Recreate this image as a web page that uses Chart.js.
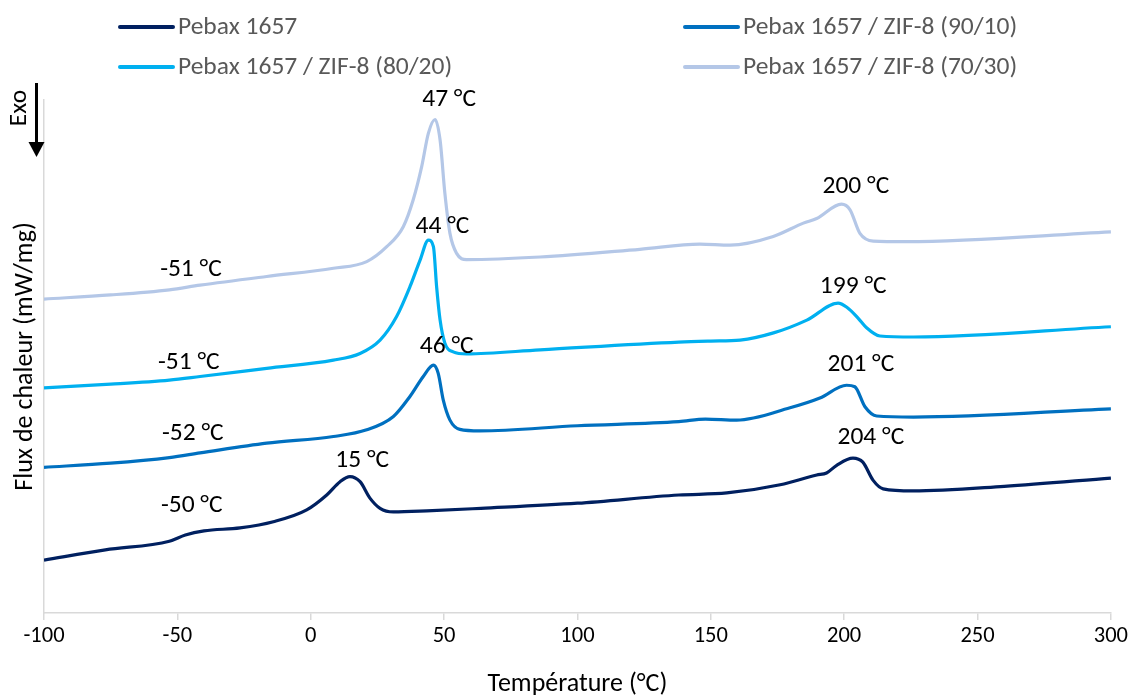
<!DOCTYPE html>
<html>
<head>
<meta charset="utf-8">
<script src="https://cdn.jsdelivr.net/npm/chart.js@4"></script>
<style>
  html, body { margin: 0; padding: 0; background: #fff; }
</style>
</head>
<body>
<canvas id="dscChart" width="1131" height="697"></canvas>
<script>
// --- data (flux in arbitrary stacked units) ---
const seriesNames = [
  "Pebax 1657",
  "Pebax 1657 / ZIF-8 (90/10)",
  "Pebax 1657 / ZIF-8 (80/20)",
  "Pebax 1657 / ZIF-8 (70/30)",
];
const seriesColors = ["#002060", "#0070C0", "#00B0F0", "#B4C7E7"];

const pebaxTemp = [-100, -77, -53, -47, -40, -26.5, -14, -1.5, 6, 11, 14.7, 18.5, 22.2, 26, 31, 43.5, 63.8, 100, 138, 156, 176, 189.7, 193.4, 197.2, 203.3, 207, 210.8, 214.6, 225.8, 260, 300];
const pebaxFlux = [1.03, 1.23, 1.40, 1.52, 1.60, 1.66, 1.78, 2.01, 2.30, 2.56, 2.66, 2.56, 2.24, 2.04, 1.97, 1.99, 2.04, 2.14, 2.30, 2.34, 2.50, 2.69, 2.73, 2.88, 3.02, 2.94, 2.59, 2.42, 2.38, 2.47, 2.63];

const zif10Temp = [-100, -75, -53, -41.5, -16.5, 8.5, 21, 31, 37.2, 42.2, 46, 47.8, 49.7, 52.2, 55.9, 63.4, 100, 138, 148, 159.7, 179.7, 190.9, 200.9, 204, 207.8, 212.2, 226, 300];
const zif10Flux = [2.84, 2.92, 3.03, 3.12, 3.31, 3.44, 3.57, 3.83, 4.22, 4.61, 4.83, 4.67, 4.15, 3.76, 3.58, 3.55, 3.65, 3.73, 3.78, 3.76, 4.00, 4.19, 4.44, 4.41, 4.02, 3.84, 3.82, 3.98];

const zif20Temp = [-100, -75, -53, -41.5, -16.5, 8.5, 18.5, 26, 32.2, 37.2, 41, 44.1, 46, 47.2, 48.5, 50.3, 53.4, 58.4, 86, 138, 150, 161, 173.5, 186, 197.7, 201, 205.2, 208.4, 213.4, 226, 300];
const zif20Flux = [4.39, 4.46, 4.54, 4.61, 4.77, 4.93, 5.06, 5.32, 5.78, 6.36, 6.88, 7.27, 7.14, 6.36, 5.71, 5.26, 5.09, 5.05, 5.13, 5.28, 5.30, 5.32, 5.46, 5.71, 6.04, 5.96, 5.75, 5.56, 5.40, 5.38, 5.58];

const zif30Temp = [-100, -75, -53, -41.5, -16.5, 8.5, 21, 28.5, 34.7, 38.4, 41.6, 44.1, 46.6, 48.5, 50.3, 52.2, 54.7, 58.4, 86, 123.4, 145.9, 157.2, 173.4, 184.7, 189.7, 199, 202.2, 205.9, 210.9, 223.4, 300];
const zif30Flux = [6.12, 6.20, 6.30, 6.39, 6.56, 6.72, 6.85, 7.14, 7.53, 8.05, 8.70, 9.35, 9.62, 9.22, 8.18, 7.40, 7.01, 6.89, 6.94, 7.09, 7.19, 7.17, 7.34, 7.60, 7.69, 7.97, 7.86, 7.40, 7.25, 7.24, 7.43];

const xTicks = [-100, -50, 0, 50, 100, 150, 200, 250, 300];

// peak / Tg labels: text, temperature, flux
const peakLabels = [
  ["47 °C", 51.9, 10.0], ["200 °C", 204.4, 8.32],
  ["44 °C", 49.4, 7.53], ["199 °C", 203.4, 6.36],
  ["46 °C", 51, 5.19], ["201 °C", 206.3, 4.85],
  ["15 °C", 19.3, 2.98], ["204 °C", 210, 3.42],
  ["-51 °C", -44.9, 6.70], ["-51 °C", -45.7, 4.89],
  ["-52 °C", -44.2, 3.49], ["-50 °C", -44.6, 2.09],
];

const FONT = "Carlito, Lato, sans-serif";
const zip = (xs, ys) => xs.map((x, i) => ({ x, y: ys[i] }));
const curves = [
  zip(pebaxTemp, pebaxFlux),
  zip(zif10Temp, zif10Flux),
  zip(zif20Temp, zif20Flux),
  zip(zif30Temp, zif30Flux),
];

// --- labels, 2x2 legend and the Exo arrow ---
const extras = {
  id: "extras",
  afterDraw(chart) {
    const { ctx, scales: { x, y } } = chart;
    ctx.save();

    ctx.font = `25.5px ${FONT}`;
    ctx.fillStyle = "#000";
    ctx.textAlign = "center";
    ctx.textBaseline = "middle";
    peakLabels.forEach(([txt, t, f]) => ctx.fillText(txt, x.getPixelForValue(t), y.getPixelForValue(f)));

    // legend
    const cols = [120, 685], rows = [27, 67];
    ctx.textAlign = "left";
    ctx.fillStyle = "#595959";
    seriesNames.forEach((name, i) => {
      const lx = cols[i % 2], ly = rows[Math.floor(i / 2)];
      ctx.strokeStyle = seriesColors[i];
      ctx.lineWidth = 4;
      ctx.lineCap = "round";
      ctx.beginPath();
      ctx.moveTo(lx, ly);
      ctx.lineTo(lx + 53, ly);
      ctx.stroke();
      ctx.fillText(name, lx + 58, ly + 1);
    });

    // Exo arrow
    ctx.strokeStyle = "#000";
    ctx.fillStyle = "#000";
    ctx.lineWidth = 3;
    ctx.lineCap = "butt";
    ctx.beginPath();
    ctx.moveTo(36.5, 83);
    ctx.lineTo(36.5, 144);
    ctx.stroke();
    ctx.beginPath();
    ctx.moveTo(28.5, 142);
    ctx.lineTo(44.5, 142);
    ctx.lineTo(36.5, 157);
    ctx.closePath();
    ctx.fill();
    ctx.translate(20, 108);
    ctx.rotate(-Math.PI / 2);
    ctx.textAlign = "center";
    ctx.fillText("Exo", 0, 0);

    ctx.restore();
  },
};

new Chart(document.getElementById("dscChart"), {
  type: "line",
  data: {
    datasets: curves.map((pts, i) => ({
      label: seriesNames[i],
      data: pts,
      borderColor: seriesColors[i],
      backgroundColor: seriesColors[i],
      borderWidth: 3.2,
      pointRadius: 0,
      cubicInterpolationMode: "monotone",
      fill: false,
    })),
  },
  options: {
    responsive: false,
    animation: false,
    devicePixelRatio: 1,
    layout: { padding: { top: 100, right: 20, left: 0, bottom: 0 } },
    plugins: {
      legend: { display: false },
      tooltip: { enabled: false },
    },
    scales: {
      x: {
        type: "linear",
        min: -100,
        max: 300,
        afterBuildTicks: (scale) => { scale.ticks = xTicks.map(v => ({ value: v })); },
        afterFit: (scale) => { scale.height = 84; },
        ticks: { color: "#000", font: { family: FONT, size: 22.5 }, padding: 3 },
        grid: { display: true, drawOnChartArea: false, drawTicks: true, tickLength: 7, color: "#D9D9D9", lineWidth: 1.5 },
        border: { display: true, color: "#D9D9D9", width: 1.5 },
        title: { display: true, text: "Température (°C)", color: "#000", font: { family: FONT, size: 26, lineHeight: 0.95 }, padding: { top: 0, bottom: 0 } },
      },
      y: {
        min: 0,
        max: 10,
        afterFit: (scale) => { scale.width = 44; },
        ticks: { display: false },
        grid: { display: false },
        border: { display: true, color: "#D9D9D9", width: 1.5 },
        title: { display: true, text: "Flux de chaleur (mW/mg)", color: "#000", font: { family: FONT, size: 26 }, padding: { top: 10, bottom: 0 } },
      },
    },
  },
  plugins: [extras],
});
</script>
</body>
</html>
